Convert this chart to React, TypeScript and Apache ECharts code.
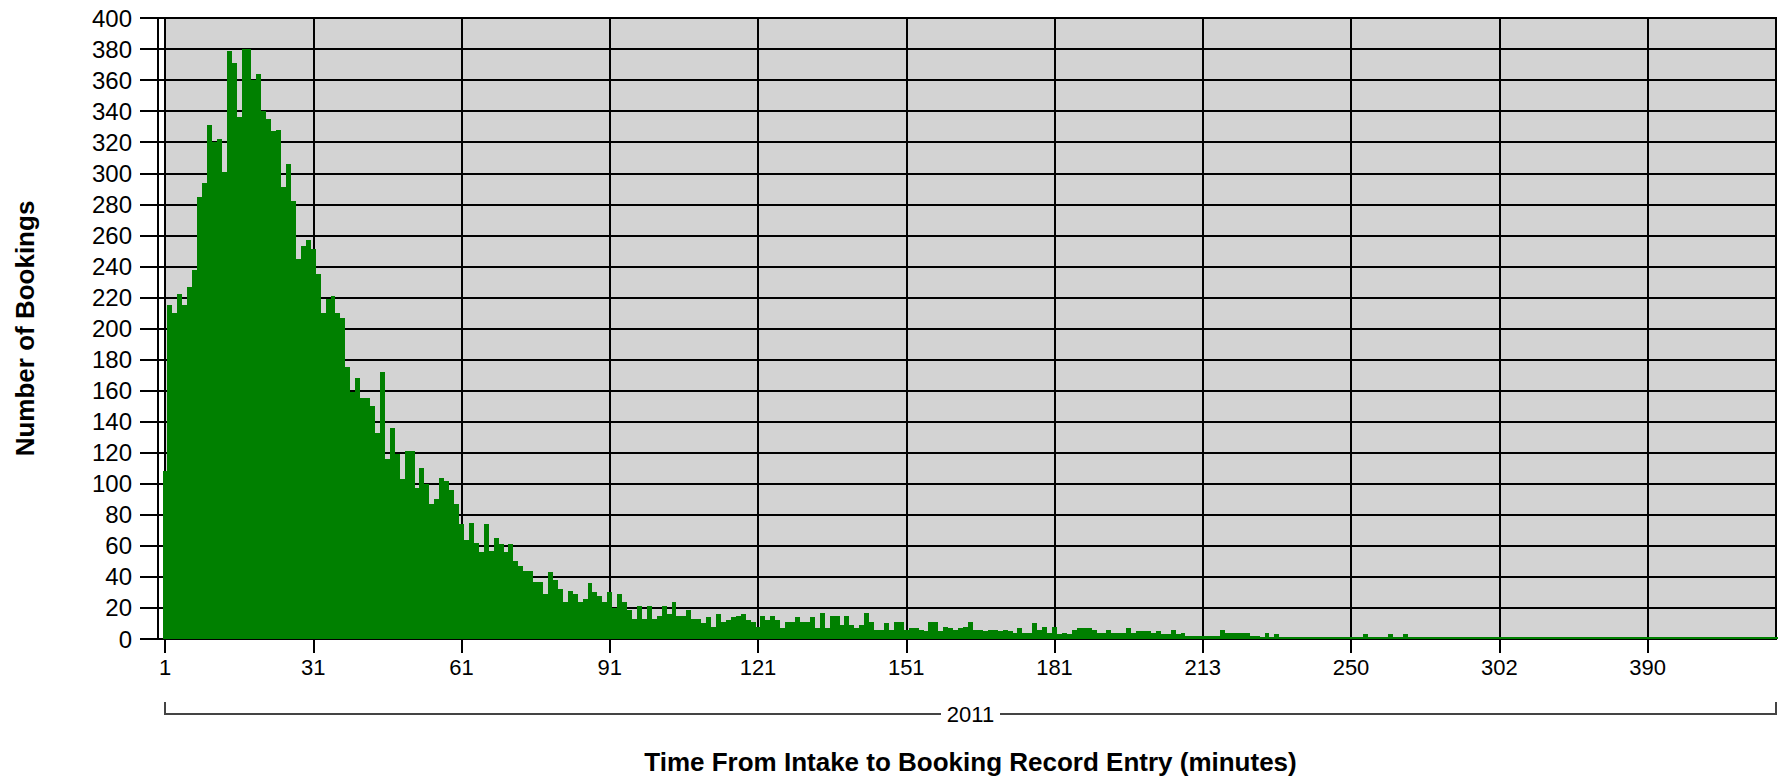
import React, { useEffect, useRef } from "react";
import * as echarts from "echarts";

// Category labels (minutes). Minutes 1..181 are contiguous; after that only minutes with bookings appear.
const contiguousLastMinute = 181;
const tailMinutes = [
  182, 183, 184, 185, 186, 187, 188, 189, 190, 191, 192, 193, 194, 195, 196, 197, 198, 199, 200, 201, 202, 204, 205, 206, 207, 208, 210, 211, 212,
  213,
  214, 215, 216, 217, 218, 219, 220, 221, 223, 224, 225, 226, 228, 229, 230, 232, 233, 234, 235, 237, 238, 239, 241, 242, 243, 245, 246, 247, 248,
  250,
  251, 252, 253, 255, 256, 258, 259, 261, 262, 264, 266, 267, 269, 271, 272, 274, 276, 278, 280, 282, 284, 285, 287, 289, 291, 293, 295, 297, 299,
  302,
  304, 306, 308, 311, 313, 316, 318, 321, 323, 326, 329, 331, 334, 337, 340, 343, 346, 349, 352, 355, 358, 361, 364, 367, 370, 374, 378, 382, 386,
  390,
  392, 395, 398, 401, 405, 409, 413, 418, 422, 427, 432, 438, 444, 450, 457, 465, 473, 482, 491, 501, 512, 525, 540, 560, 585, 620,
];

// Number of bookings per category, in order.
const countsA = [108, 215, 210, 222, 215, 227, 238, 285, 294, 331, 320, 322, 301, 379, 371, 336, 380, 380, 360, 364, 340, 335, 327, 328, 291, 306, 282, 245, 253, 257];
const countsB = [251, 235, 210, 219, 221, 210, 207, 175, 159, 168, 155, 155, 150, 133, 172, 116, 136, 119, 103, 121, 121, 97, 110, 100, 87, 90, 104, 102, 96, 87];
const countsC = [74, 64, 75, 62, 56, 74, 57, 65, 61, 56, 61, 50, 47, 44, 44, 37, 37, 29, 43, 38, 32, 24, 31, 29, 24, 26, 36, 30, 28, 24];
const countsD = [30, 20, 29, 24, 19, 13, 21, 13, 21, 13, 15, 21, 16, 24, 15, 15, 19, 13, 13, 10, 14, 8, 16, 11, 12, 14, 15, 16, 12, 11];
const countsE = [8, 15, 12, 15, 12, 7, 11, 11, 14, 11, 11, 14, 7, 17, 7, 15, 15, 9, 15, 9, 7, 9, 17, 11, 6, 6, 10, 6, 11, 11];
const countsF = [6, 7, 7, 6, 5, 11, 11, 5, 8, 7, 6, 7, 8, 11, 6, 6, 5, 6, 6, 5, 6, 5, 4, 7, 4, 4, 10, 6, 8, 4];
const countsG = [8, 3, 4, 3, 6, 7, 7, 7, 6, 4, 4, 6, 4, 4, 4, 7, 4, 5, 5, 5, 4, 5, 3, 3, 6, 3, 4, 2, 2, 2];
const countsH = [2, 2, 2, 2, 6, 4, 4, 4, 4, 4, 2, 2, 1, 4, 1, 3, 1, 1, 1, 1, 1, 1, 1, 1, 1, 1, 1, 1, 1, 1];
const countsI = [1, 1, 1, 3, 1, 1, 1, 1, 3, 1, 1, 3, 1, 1, 1, 1, 1, 1, 1, 1, 1, 1, 1, 1, 1, 1, 1, 1, 1, 1];
const countsJ = [1, 1, 1, 1, 1, 1, 1, 1, 1, 1, 1, 1, 1, 1, 1, 1, 1, 1, 1, 1, 1, 1, 1, 1, 1, 1, 1, 1, 1, 1];
const countsK = [1, 1, 1, 1, 1, 1, 1, 1, 1, 1, 1, 1, 1, 1, 1, 1, 1, 1, 1, 1, 1, 1, 1, 1, 1, 1, 1];

const groupLabel = ["2011"];
const xTitle = "Time From Intake to Booking Record Entry (minutes)";
const yTitle = "Number of Bookings";

const FONT = '"Liberation Sans", Arial, sans-serif';

export default function App() {
  const ref = useRef<HTMLDivElement>(null);

  useEffect(() => {
    if (!ref.current) return;
    const minutes: string[] = [];
    for (let m = 1; m <= contiguousLastMinute; m++) minutes.push(String(m));
    tailMinutes.forEach((m) => minutes.push(String(m)));
    const counts = [
      ...countsA, ...countsB, ...countsC, ...countsD, ...countsE, ...countsF,
      ...countsG, ...countsH, ...countsI, ...countsJ, ...countsK,
    ];

    const chart = echarts.init(ref.current, null, { renderer: "svg" });
    const black = { color: "#000", width: 2 };
    chart.setOption({
      animation: false,
      backgroundColor: "#fff",
      grid: {
        left: 165,
        right: 9,
        top: 18,
        bottom: 141,
        show: true,
        backgroundColor: "#d3d3d3",
        borderColor: "#000",
        borderWidth: 2,
      },
      xAxis: [
        {
          type: "category",
          data: minutes,
          boundaryGap: false,
          position: "bottom",
          axisLine: { show: true, onZero: false, lineStyle: black },
          axisTick: { show: true, interval: 29, length: 14, lineStyle: black },
          axisLabel: { interval: 29, margin: 17, fontSize: 22, color: "#000", fontFamily: FONT },
          splitLine: { show: true, interval: 29, lineStyle: black },
          name: xTitle,
          nameLocation: "middle",
          nameGap: 110,
          nameTextStyle: { fontSize: 26, fontWeight: "bold", color: "#000", fontFamily: FONT },
        },
        {
          type: "category",
          data: groupLabel,
          position: "bottom",
          offset: 75,
          boundaryGap: true,
          axisLine: { show: true, onZero: false, lineStyle: { color: "#444", width: 2 } },
          axisTick: { show: true, inside: true, length: 12, lineStyle: { color: "#444", width: 2 } },
          axisLabel: {
            margin: 0,
            verticalAlign: "middle",
            backgroundColor: "#fff",
            padding: [2, 6],
            fontSize: 22,
            color: "#000",
            fontFamily: FONT,
          },
          splitLine: { show: false },
        },
      ],
      yAxis: [
        {
          type: "value",
          min: 0,
          max: 400,
          interval: 20,
          position: "left",
          offset: 7,
          axisLine: { show: true, onZero: false, lineStyle: black },
          axisTick: { show: true, length: 18, lineStyle: black },
          axisLabel: { margin: 26, fontSize: 24, color: "#000", fontFamily: FONT },
          splitLine: { show: true, lineStyle: black },
          name: yTitle,
          nameLocation: "middle",
          nameGap: 120,
          nameRotate: 90,
          nameTextStyle: { fontSize: 26, fontWeight: "bold", color: "#000", fontFamily: FONT },
        },
        {
          type: "value",
          min: 0,
          max: 400,
          interval: 20,
          position: "left",
          offset: 0,
          axisLine: { show: false, onZero: false },
          axisTick: { show: true, length: 7, lineStyle: black },
          axisLabel: { show: false },
          splitLine: { show: false },
        },
      ],
      series: [
        {
          type: "bar",
          data: counts,
          xAxisIndex: 0,
          yAxisIndex: 0,
          barWidth: "100%",
          clip: false,
          itemStyle: { color: "#008000" },
          emphasis: { disabled: true },
        },
      ],
    });
    return () => chart.dispose();
  }, []);

  return (
    <div
      ref={ref}
      style={{
        position: "absolute",
        left: 0,
        top: 0,
        width: 1785,
        height: 780,
        shapeRendering: "crispEdges",
      }}
    />
  );
}
